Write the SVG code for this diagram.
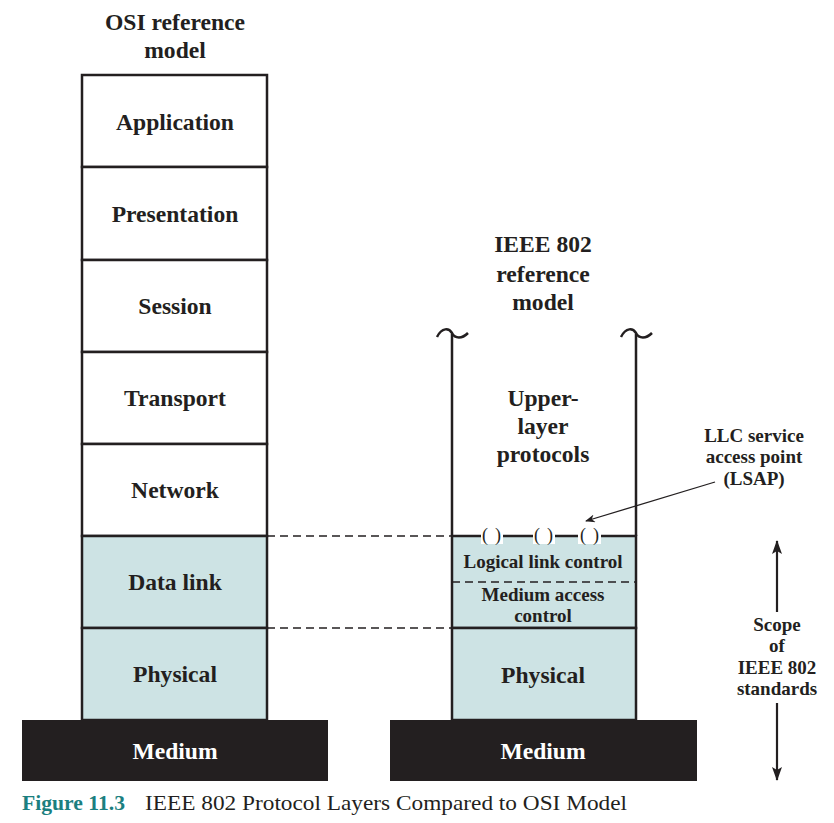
<svg xmlns="http://www.w3.org/2000/svg" width="834" height="823" viewBox="0 0 834 823">
<style>
.t{font-family:"Liberation Serif","Times New Roman",serif;font-weight:bold;fill:#231f20;text-anchor:middle}
.L{font-size:23.6px}
.S{font-size:19px}
.p{font-family:"Liberation Serif","Times New Roman",serif;font-size:18px;fill:#231f20;text-anchor:middle}
.box{fill:#fff;stroke:#231f20;stroke-width:2.5}
.blue{fill:#cde3e4;stroke:#231f20;stroke-width:2.5}
.med{fill:#231f20}
.dash{stroke:#231f20;stroke-width:1.3;stroke-dasharray:8,5;fill:none}
.ln{stroke:#231f20;stroke-width:2.5;fill:none}
</style>
<defs>
<marker id="ah" markerWidth="10" markerHeight="8" refX="9" refY="4" orient="auto" markerUnits="userSpaceOnUse">
<path d="M0,0 L10,4 L0,8 L3,4 Z" fill="#231f20"/>
</marker>
<marker id="ah2" markerWidth="14" markerHeight="10" refX="13" refY="5" orient="auto" markerUnits="userSpaceOnUse">
<path d="M0,0 L14,5 L0,10 L3,5 Z" fill="#231f20"/>
</marker>
</defs>
<rect width="834" height="823" fill="#fff"/>

<g id="osi-title">
<text class="t L" x="175" y="30">OSI reference</text>
<text class="t L" x="175" y="58">model</text>
</g>
<g id="application"><rect class="box" x="82" y="75" width="185" height="92"/><text class="t L" x="175" y="130">Application</text></g>
<g id="presentation"><rect class="box" x="82" y="167" width="185" height="93"/><text class="t L" x="175" y="222">Presentation</text></g>
<g id="session"><rect class="box" x="82" y="260" width="185" height="92"/><text class="t L" x="175" y="314">Session</text></g>
<g id="transport"><rect class="box" x="82" y="352" width="185" height="92"/><text class="t L" x="175" y="406">Transport</text></g>
<g id="network"><rect class="box" x="82" y="444" width="185" height="92"/><text class="t L" x="175" y="498">Network</text></g>
<g id="datalink"><rect class="blue" x="82" y="536" width="185" height="92"/><text class="t L" x="175" y="590">Data link</text></g>
<g id="physical-osi"><rect class="blue" x="82" y="628" width="185" height="92"/><text class="t L" x="175" y="682">Physical</text></g>
<g id="medium-osi"><rect class="med" x="22" y="720" width="306" height="61"/><text class="t L" x="175" y="759" style="fill:#fff">Medium</text></g>

<g id="ieee-title">
<text class="t L" x="543" y="252">IEEE 802</text>
<text class="t L" x="543" y="282">reference</text>
<text class="t L" x="543" y="310">model</text>
</g>
<g id="upper">
<path class="ln" d="M452,334 V536 M636,334 V536"/>
<path class="ln" d="M437,337 C442,327 449,328 452,333 C455,339 462,339 468,333"/>
<path class="ln" d="M621,337 C626,327 633,328 636,333 C639,339 646,339 652,333"/>
<text class="t L" x="543" y="406">Upper-</text>
<text class="t L" x="543" y="434">layer</text>
<text class="t L" x="543" y="462">protocols</text>
</g>
<g id="llc-mac">
<rect class="blue" x="452" y="536" width="184" height="92"/>
<line x1="452" y1="582" x2="636" y2="582" class="dash"/>
<text class="t S" x="543" y="568">Logical link control</text>
<text class="t S" x="543" y="601">Medium access</text>
<text class="t S" x="543" y="622">control</text>
</g>
<g id="lsap-points">
<rect x="481" y="528" width="22" height="16" fill="#fff"/>
<rect x="533" y="528" width="22" height="16" fill="#fff"/>
<rect x="578" y="528" width="23" height="16" fill="#fff"/>
<text class="p" x="485" y="541">(</text><text class="p" x="498" y="541">)</text>
<text class="p" x="537" y="541">(</text><text class="p" x="550" y="541">)</text>
<text class="p" x="583" y="541">(</text><text class="p" x="596" y="541">)</text>
</g>
<g id="physical-ieee"><rect class="blue" x="452" y="628" width="184" height="92"/><text class="t L" x="543" y="683">Physical</text></g>
<g id="medium-ieee"><rect class="med" x="390" y="720" width="307" height="61"/><text class="t L" x="543" y="759" style="fill:#fff">Medium</text></g>

<g id="lsap-label">
<text class="t S" x="754" y="442">LLC service</text>
<text class="t S" x="754" y="463">access point</text>
<text class="t S" x="754" y="485">(LSAP)</text>
</g>
<g id="scope">
<text class="t S" x="777" y="631">Scope</text>
<text class="t S" x="777" y="652">of</text>
<text class="t S" x="777" y="674">IEEE 802</text>
<text class="t S" x="777" y="695">standards</text>
</g>

<g id="connectors">
<line class="dash" x1="267" y1="536" x2="452" y2="536"/>
<line class="dash" x1="267" y1="628" x2="452" y2="628"/>
<line x1="715" y1="482" x2="586" y2="521" stroke="#231f20" stroke-width="1.3" marker-end="url(#ah)"/>
<line x1="777" y1="612" x2="777" y2="541" stroke="#231f20" stroke-width="2.2" marker-end="url(#ah2)"/>
<line x1="777" y1="703" x2="777" y2="780" stroke="#231f20" stroke-width="2.2" marker-end="url(#ah2)"/>
</g>

<g id="caption">
<text x="22" y="810" textLength="103" lengthAdjust="spacingAndGlyphs" style="font-family:'Liberation Serif','Times New Roman',serif;font-size:21.5px;font-weight:bold;fill:#1b7f80">Figure 11.3</text>
<text x="145" y="810" textLength="482" lengthAdjust="spacingAndGlyphs" style="font-family:'Liberation Serif','Times New Roman',serif;font-size:22px;fill:#231f20">IEEE 802 Protocol Layers Compared to OSI Model</text>
</g>
</svg>
